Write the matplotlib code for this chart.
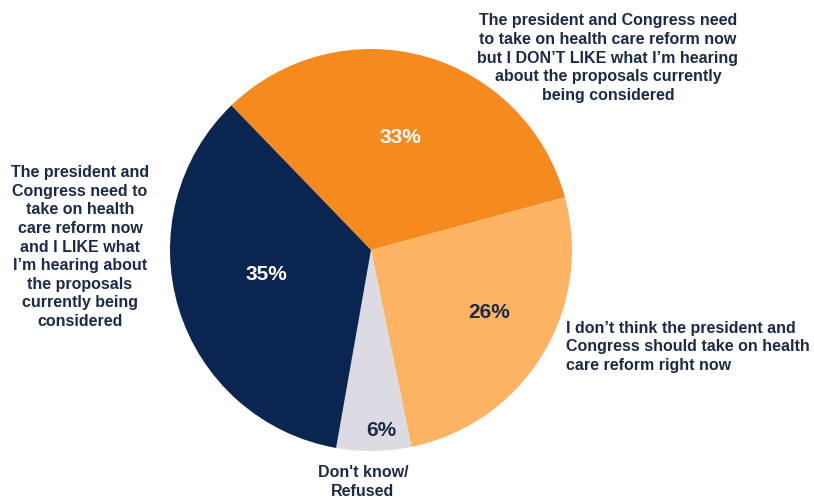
import matplotlib.pyplot as plt

plt.rcParams['font.family'] = ['Liberation Sans', 'DejaVu Sans']

# slices, drawn clockwise starting from the top-left boundary
labels = ["The president and Congress need\nto take on health care reform now\nbut I DON\u2019T LIKE what I\u2019m hearing\nabout the proposals currently\nbeing considered",
          "I don\u2019t think the president and\nCongress should take on health\ncare reform right now",
          "Don't know/\nRefused",
          "The president and\nCongress need to\ntake on health\ncare reform now\nand I LIKE what\nI\u2019m hearing about\nthe proposals\ncurrently being\nconsidered"]
values = [33, 26, 6, 35]
colors = ["#F58A1F", "#FDB462", "#DCDBE3", "#0A2550"]
pct_colors = ["white", "#1B2A4A", "#1B2A4A", "white"]

W, H = 814, 498
cx, cy, r = 371, 250, 201
txt = "#1B2A4A"

fig = plt.figure(figsize=(W / 100, H / 100), dpi=100)
ax = fig.add_axes([(cx - r) / W, (H - cy - r) / H, 2 * r / W, 2 * r / H])

wedges, _ = ax.pie(values, colors=colors, startangle=134, counterclock=False,
                   radius=1, wedgeprops=dict(linewidth=0))
ax.set_xlim(-1, 1)
ax.set_ylim(-1, 1)
ax.set_aspect('equal')
ax.axis('off')


def px(x, y):
    return ((x - cx) / r, (cy - y) / r)


# percentage labels
pct_pos = [(400, 137), (489, 312), (381, 430), (266, 274)]
for v, (x, y), c in zip(values, pct_pos, pct_colors):
    ax.text(*px(x, y), f"{v}%", ha='center', va='center', color=c,
            fontsize=15, fontweight='bold')

# category labels
lab_pos = [(608, 58, 'center'), (566, 347, 'left'), (363, 482, 'center'), (80, 247, 'center')]
for lab, (x, y, ha) in zip(labels, lab_pos):
    ax.text(*px(x, y), lab, ha=ha, va='center', multialignment=ha,
            color=txt, fontsize=11.5, fontweight='bold', linespacing=1.3, clip_on=False)

fig.savefig("out.png", dpi=100)
